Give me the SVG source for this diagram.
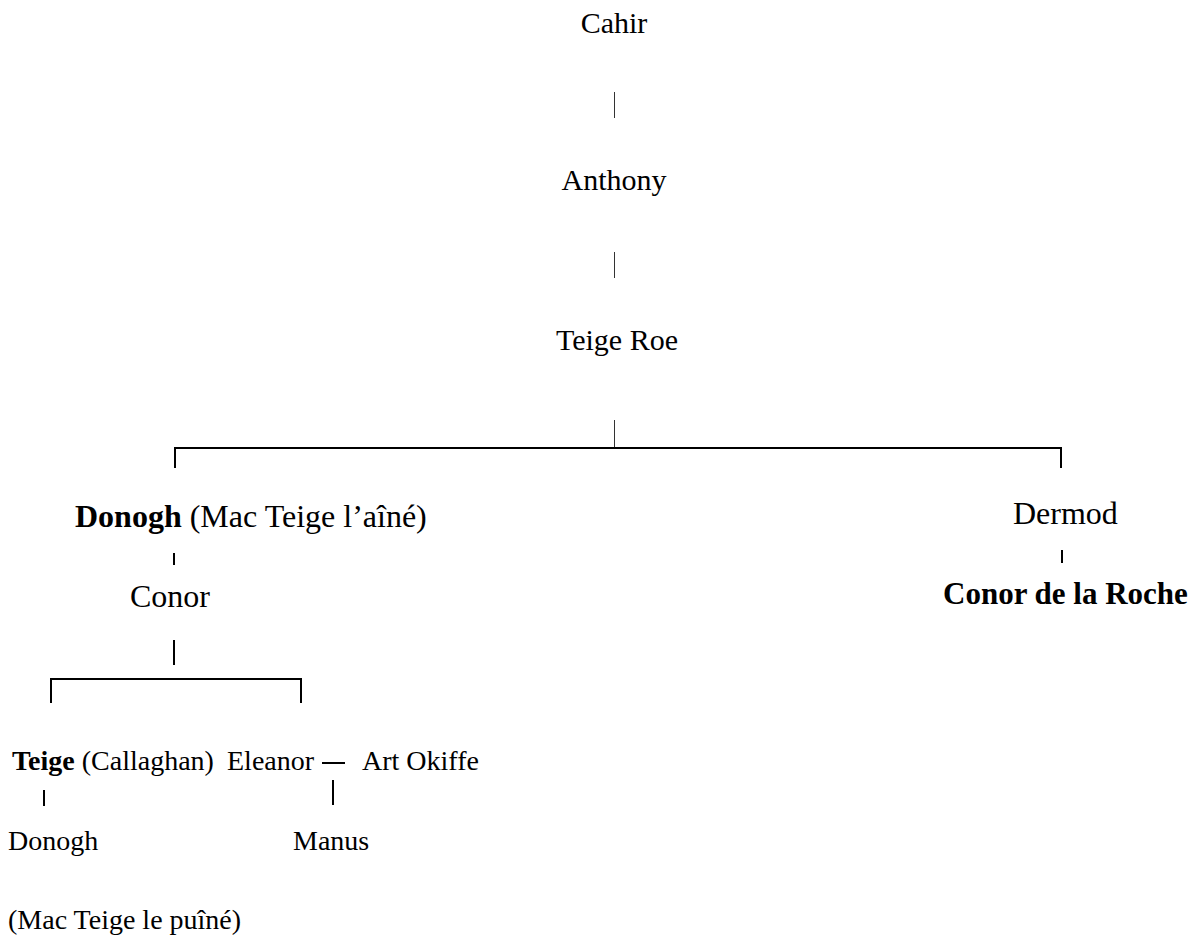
<svg xmlns="http://www.w3.org/2000/svg" width="1200" height="943" viewBox="0 0 1200 943">
<style>
text{font-family:"Liberation Serif","Times New Roman",serif;fill:#000;font-size:32px}
.t{font-size:30px}
.s{font-size:28px}
.r{font-size:31px}
.b{font-weight:bold}
.thin{stroke:#333;stroke-width:1;fill:none}
.ln{stroke:#000;stroke-width:2;fill:none}
</style>
<rect width="1200" height="943" fill="#fff"/>
<g id="connectors">
<line class="thin" x1="614.5" y1="92" x2="614.5" y2="118"/>
<line class="thin" x1="614.5" y1="252" x2="614.5" y2="278"/>
<line class="thin" x1="614.5" y1="420" x2="614.5" y2="448"/>
<polyline class="ln" points="175,468 175,448 1061,448 1061,468"/>
<line class="ln" x1="174" y1="553" x2="174" y2="565"/>
<line class="ln" x1="1062" y1="550" x2="1062" y2="563"/>
<line class="ln" x1="174" y1="640" x2="174" y2="665"/>
<polyline class="ln" points="51,703 51,679 301,679 301,703"/>
<line class="ln" x1="44" y1="790" x2="44" y2="806"/>
<line class="ln" x1="333" y1="780" x2="333" y2="805"/>
<line class="ln" x1="322" y1="763" x2="345" y2="763"/>
</g>
<g id="n-cahir"><text class="t" x="614" y="33" text-anchor="middle">Cahir</text></g>
<g id="n-anthony"><text class="t" x="614" y="190" text-anchor="middle">Anthony</text></g>
<g id="n-teigeroe"><text class="t" x="617" y="350" text-anchor="middle">Teige Roe</text></g>
<g id="n-donogh1"><text x="75" y="527"><tspan class="b">Donogh</tspan> (Mac Teige l’aîné)</text></g>
<g id="n-dermod"><text x="1013" y="524">Dermod</text></g>
<g id="n-conor"><text x="130" y="607">Conor</text></g>
<g id="n-conorroche"><text class="b r" x="943" y="604">Conor de la Roche</text></g>
<g id="n-teige"><text class="s" x="12" y="770"><tspan class="b">Teige</tspan> (Callaghan)</text></g>
<g id="n-eleanor"><text class="s" x="227" y="770">Eleanor</text></g>
<g id="n-art"><text class="s" x="362" y="770">Art Okiffe</text></g>
<g id="n-donogh2"><text class="s" x="8" y="850">Donogh</text><text class="s" x="8" y="929">(Mac Teige le puîné)</text></g>
<g id="n-manus"><text class="s" x="293" y="850">Manus</text></g>
</svg>
